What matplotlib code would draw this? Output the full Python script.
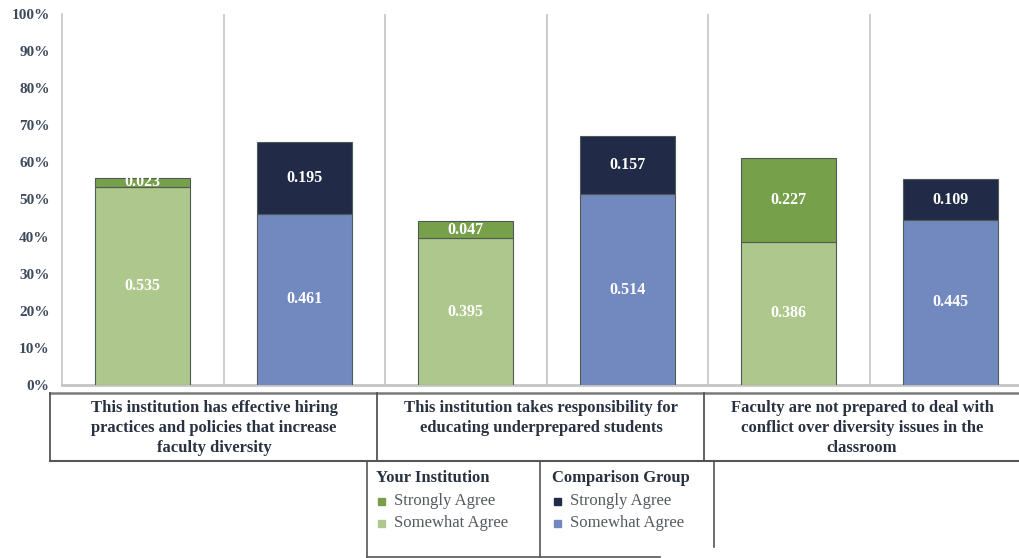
import matplotlib
matplotlib.use("Agg")
import matplotlib.pyplot as plt
from matplotlib.lines import Line2D
from matplotlib.patches import Rectangle
import numpy as np

# ---- data ----
categories = [
    "This institution has effective hiring\npractices and policies that increase\nfaculty diversity",
    "This institution takes responsibility for\neducating underprepared students",
    "Faculty are not prepared to deal with\nconflict over diversity issues in the\nclassroom",
]
inst_somewhat = [0.535, 0.395, 0.386]
inst_strongly = [0.023, 0.047, 0.227]
comp_somewhat = [0.461, 0.514, 0.445]
comp_strongly = [0.195, 0.157, 0.109]
yticks = [0, 0.1, 0.2, 0.3, 0.4, 0.5, 0.6, 0.7, 0.8, 0.9, 1.0]
ytick_labels = ["0%", "10%", "20%", "30%", "40%", "50%", "60%", "70%", "80%", "90%", "100%"]

C_INST_SOME = "#aec78c"
C_INST_STRONG = "#77a04a"
C_COMP_SOME = "#7289c0"
C_COMP_STRONG = "#212b47"

SERIF = ["Liberation Serif", "DejaVu Serif"]
plt.rcParams["font.family"] = SERIF

W, H = 1019, 558
fig = plt.figure(figsize=(W / 100, H / 100), dpi=100)

def fx(px):
    return px / W

def fy(py):
    return 1 - py / H

ax_left, ax_right, ax_top, ax_bot = 62, 1031, 14, 385
ax = fig.add_axes([fx(ax_left), fy(ax_bot), fx(ax_right - ax_left), (ax_bot - ax_top) / H])

n = len(categories)
x_inst = np.arange(n) * 2
x_comp = np.arange(n) * 2 + 1
bw = 0.59
ec = "#4f5a55"

ax.bar(x_inst, inst_somewhat, bw, color=C_INST_SOME, edgecolor=ec, linewidth=0.8, zorder=3)
ax.bar(x_inst, inst_strongly, bw, bottom=inst_somewhat, color=C_INST_STRONG, edgecolor=ec, linewidth=0.8, zorder=3)
ax.bar(x_comp, comp_somewhat, bw, color=C_COMP_SOME, edgecolor=ec, linewidth=0.8, zorder=3)
ax.bar(x_comp, comp_strongly, bw, bottom=comp_somewhat, color=C_COMP_STRONG, edgecolor=ec, linewidth=0.8, zorder=3)

def label(xs, vals, bottoms):
    for x, v, b in zip(xs, vals, bottoms):
        ax.text(x, b + v / 2, f"{v:.3f}", ha="center", va="center", color="white",
                fontsize=11.5, fontweight="bold", zorder=5)

label(x_inst, inst_somewhat, [0] * n)
label(x_inst, inst_strongly, inst_somewhat)
label(x_comp, comp_somewhat, [0] * n)
label(x_comp, comp_strongly, comp_somewhat)

ax.set_xlim(-0.5, 2 * n - 0.5)
ax.set_ylim(0, 1)
ax.set_yticks(yticks)
ax.set_yticklabels(ytick_labels)
for t in ax.get_yticklabels():
    t.set_fontweight("bold")
    t.set_color("#3d4a5c")
    t.set_fontsize(11)
ax.tick_params(axis="y", length=0, pad=9)
ax.set_xticks([])
for xb in np.arange(0.5, 2 * n - 0.5, 1.0):
    ax.axvline(xb, color="#c4c4c4", linewidth=1.2, zorder=1)
for s in ["top", "right"]:
    ax.spines[s].set_visible(False)
ax.spines["left"].set_color("#c4c4c4")
ax.spines["left"].set_linewidth(1.2)
ax.spines["bottom"].set_color("#c4c4c4")
ax.spines["bottom"].set_linewidth(2)

# ---- category table below ----
lc = "#555555"
def hline(x0, x1, y, lw=1.3, color=lc):
    fig.add_artist(Line2D([fx(x0), fx(x1)], [fy(y), fy(y)], color=color, linewidth=lw))

def vline(x, y0, y1, lw=1.3, color=lc):
    fig.add_artist(Line2D([fx(x), fx(x)], [fy(y0), fy(y1)], color=color, linewidth=lw))

tbl_top, tbl_bot = 393, 461
cell_edges = [50, 377, 704, 1030]
hline(50, 1030, tbl_top, lw=1.8, color="#7a7a7a")
hline(50, 1030, tbl_bot, lw=1.5)
for xe in cell_edges[:-1]:
    vline(xe, tbl_top, tbl_bot)

centers = [214, 541, 862]
for cx, txt in zip(centers, categories):
    for i, line in enumerate(txt.split("\n")):
        fig.text(fx(cx), fy(408 + 20 * i), line, ha="center", va="center", fontsize=12,
                 fontweight="bold", color="#2a3242")

# ---- legend box ----
vline(367, tbl_bot, 557, lw=1.2)
vline(540, tbl_bot, 557, lw=1.2)
vline(714, tbl_bot, 547, lw=1.2)
hline(367, 660, 557, lw=1.2)

fig.text(fx(376), fy(478), "Your Institution", ha="left", va="center", fontsize=12,
         fontweight="bold", color="#2a3242")
fig.text(fx(552), fy(478), "Comparison Group", ha="left", va="center", fontsize=12,
         fontweight="bold", color="#2a3242")

legend_rows = [
    (378, 501, C_INST_STRONG, "Strongly Agree"),
    (378, 523, C_INST_SOME, "Somewhat Agree"),
    (554, 501, C_COMP_STRONG, "Strongly Agree"),
    (554, 523, C_COMP_SOME, "Somewhat Agree"),
]
sq = 7
for x0, y0, col, txt in legend_rows:
    fig.add_artist(Rectangle((fx(x0), fy(y0 + sq / 2)), sq / W, sq / H, color=col))
    fig.text(fx(x0 + 16), fy(y0), txt, ha="left", va="center", fontsize=12, color="#555a60")

fig.savefig("out.png", dpi=100)
